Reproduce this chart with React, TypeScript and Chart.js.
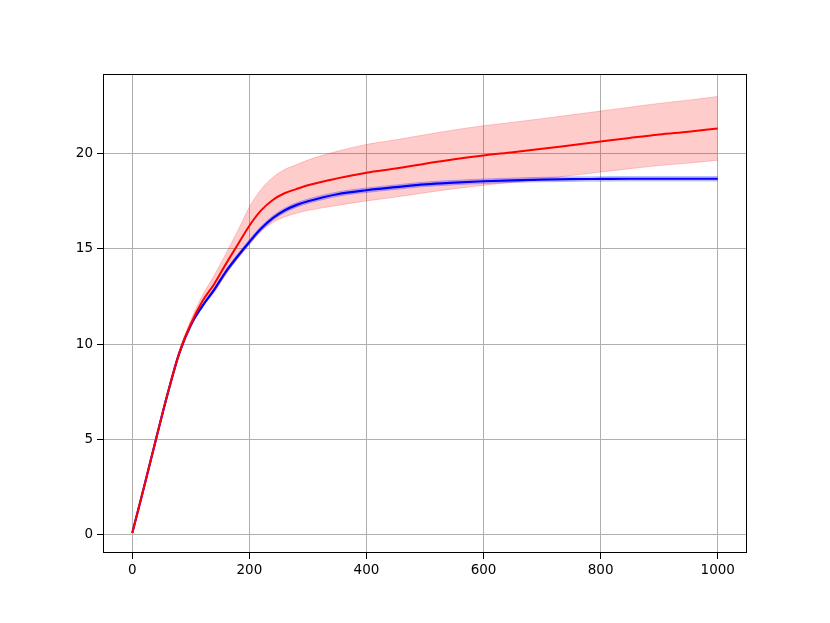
import React, { useEffect, useRef } from "react";
import { Chart, registerables } from "chart.js";

Chart.register(...registerables);

const xs = [0, 20, 40, 60, 80, 100, 120, 140, 160, 180, 200, 220, 240, 260, 280, 300, 350, 400, 450, 500, 550, 600, 650, 700, 750, 800, 850, 900, 950, 1000];

const redMean = [0.1, 2.5, 4.95, 7.35, 9.5, 11.05, 12.25, 13.15, 14.2, 15.2, 16.2, 17.0, 17.55, 17.9, 18.12, 18.32, 18.68, 18.98, 19.2, 19.45, 19.68, 19.88, 20.05, 20.23, 20.42, 20.61, 20.8, 20.98, 21.13, 21.3];
const redStd = [0.02, 0.05, 0.08, 0.12, 0.15, 0.2, 0.3, 0.45, 0.55, 0.72, 0.98, 1.1, 1.18, 1.24, 1.27, 1.32, 1.42, 1.48, 1.5, 1.52, 1.54, 1.56, 1.57, 1.58, 1.59, 1.6, 1.61, 1.63, 1.65, 1.67];

const blueMean = [0.1, 2.5, 4.95, 7.35, 9.5, 11.0, 12.0, 12.85, 13.8, 14.6, 15.35, 16.05, 16.6, 17.0, 17.28, 17.48, 17.85, 18.06, 18.22, 18.37, 18.46, 18.53, 18.58, 18.62, 18.64, 18.65, 18.66, 18.66, 18.66, 18.66];
const blueStd = [0.01, 0.02, 0.03, 0.04, 0.05, 0.06, 0.08, 0.1, 0.11, 0.12, 0.12, 0.12, 0.12, 0.12, 0.12, 0.12, 0.12, 0.12, 0.12, 0.12, 0.12, 0.12, 0.12, 0.12, 0.12, 0.12, 0.12, 0.12, 0.12, 0.12];

const xTicks = [0, 200, 400, 600, 800, 1000];
const yTicks = [0, 5, 10, 15, 20];

const pts = (ys: number[]) => xs.map((x, i) => ({ x, y: ys[i] }));

const framePlugin = {
  id: "frame",
  afterDatasetsDraw(chart: any) {
    const { ctx, chartArea } = chart;
    ctx.save();
    ctx.strokeStyle = "#000";
    ctx.lineWidth = 1;
    ctx.strokeRect(
      Math.round(chartArea.left) + 0.5,
      Math.round(chartArea.top) + 0.5,
      Math.round(chartArea.right - chartArea.left) - 1,
      Math.round(chartArea.bottom - chartArea.top) - 1
    );
    ctx.restore();
  },
};

export default function App() {
  const ref = useRef<HTMLCanvasElement | null>(null);
  useEffect(() => {
    if (!ref.current) return;
    const font = { family: "DejaVu Sans", size: 13.5 };
    const common = { pointRadius: 0, pointHoverRadius: 0, cubicInterpolationMode: "monotone" as const };
    const chart = new Chart(ref.current, {
      type: "line",
      data: {
        datasets: [
          { ...common, data: pts(redMean), borderColor: "#ff0000", borderWidth: 2, fill: false, order: 1 },
          { ...common, data: pts(blueMean), borderColor: "#0000ff", borderWidth: 2.2, fill: false, order: 2 },
          { ...common, data: pts(blueMean.map((m, i) => m + blueStd[i])), borderColor: "rgba(0,0,255,0.2)", borderWidth: 1, backgroundColor: "rgba(0,0,255,0.2)", fill: "+1", order: 3 },
          { ...common, data: pts(blueMean.map((m, i) => m - blueStd[i])), borderColor: "rgba(0,0,255,0.2)", borderWidth: 1, fill: false, order: 4 },
          { ...common, data: pts(redMean.map((m, i) => m + redStd[i])), borderColor: "rgba(255,0,0,0.2)", borderWidth: 1, backgroundColor: "rgba(255,0,0,0.2)", fill: "+1", order: 5 },
          { ...common, data: pts(redMean.map((m, i) => m - redStd[i])), borderColor: "rgba(255,0,0,0.2)", borderWidth: 1, fill: false, order: 6 },
        ],
      },
      options: {
        animation: false,
        responsive: false,
        devicePixelRatio: 1,
        events: [],
        layout: { padding: { left: 0, top: 74, right: 83, bottom: 0 } },
        plugins: { legend: { display: false }, tooltip: { enabled: false } },
        scales: {
          x: {
            type: "linear",
            min: -50,
            max: 1050,
            afterBuildTicks: (s: any) => { s.ticks = xTicks.map((v) => ({ value: v })); },
            afterFit: (s: any) => { s.height = 70; },
            grid: { color: "#b0b0b0", lineWidth: 1, tickLength: 6, tickColor: "#000", tickWidth: 1 },
            border: { display: false },
            ticks: { color: "#000", font, padding: 3, maxRotation: 0, autoSkip: false, callback: (v: any) => String(v) },
          },
          y: {
            type: "linear",
            min: -0.95,
            max: 24.15,
            afterBuildTicks: (s: any) => { s.ticks = yTicks.map((v) => ({ value: v })); },
            afterFit: (s: any) => { s.width = 103; },
            grid: { color: "#b0b0b0", lineWidth: 1, tickLength: 6, tickColor: "#000", tickWidth: 1 },
            border: { display: false },
            ticks: { color: "#000", font, padding: 4, autoSkip: false, callback: (v: any) => String(v) },
          },
        },
      },
      plugins: [framePlugin],
    });
    return () => chart.destroy();
  }, []);
  return (
    <div style={{ position: "fixed", left: 0, top: 0, width: 830, height: 623, background: "#fff" }}>
      <canvas ref={ref} width={830} height={623} />
    </div>
  );
}
